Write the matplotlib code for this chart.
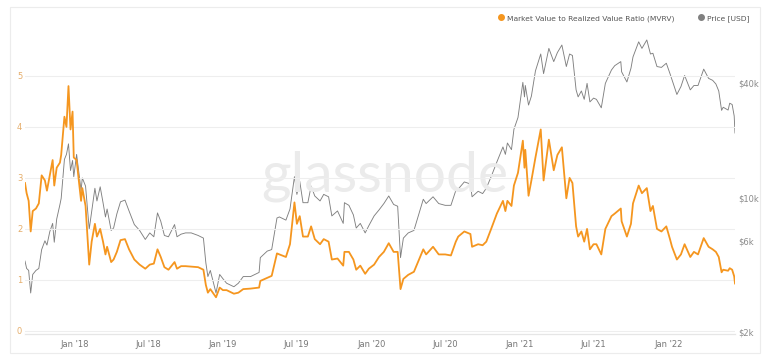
#!/usr/bin/env python3
"""Bitcoin MVRV ratio vs price chart, glassnode style."""

import matplotlib

matplotlib.use("Agg")
import matplotlib.pyplot as plt
import pandas as pd
from matplotlib.lines import Line2D
from matplotlib.patches import Rectangle
from matplotlib.ticker import FixedLocator, NullLocator

DATES = [
    "2017-09-01", "2017-09-05", "2017-09-10", "2017-09-15", "2017-09-20", "2017-09-28",
    "2017-10-05", "2017-10-12", "2017-10-20", "2017-10-25", "2017-11-01", "2017-11-08",
    "2017-11-12", "2017-11-18", "2017-11-26", "2017-11-29", "2017-12-07", "2017-12-12",
    "2017-12-17", "2017-12-22", "2017-12-27", "2017-12-30", "2018-01-06", "2018-01-10",
    "2018-01-17", "2018-01-20", "2018-01-28", "2018-02-06", "2018-02-12", "2018-02-20",
    "2018-02-25", "2018-03-05", "2018-03-12", "2018-03-18", "2018-03-22", "2018-04-01",
    "2018-04-07", "2018-04-15", "2018-04-24", "2018-05-05", "2018-05-15", "2018-05-28",
    "2018-06-10", "2018-06-24", "2018-07-05", "2018-07-15", "2018-07-24", "2018-08-01",
    "2018-08-10", "2018-08-20", "2018-09-04", "2018-09-10", "2018-09-20", "2018-10-01",
    "2018-10-15", "2018-11-01", "2018-11-14", "2018-11-20", "2018-11-25", "2018-12-01",
    "2018-12-15", "2018-12-24", "2019-01-01", "2019-01-10", "2019-01-28", "2019-02-08",
    "2019-02-20", "2019-03-10", "2019-03-31", "2019-04-03", "2019-04-20", "2019-05-01",
    "2019-05-14", "2019-05-20", "2019-06-05", "2019-06-15", "2019-06-26", "2019-07-02",
    "2019-07-09", "2019-07-17", "2019-07-29", "2019-08-06", "2019-08-15", "2019-08-28",
    "2019-09-06", "2019-09-18", "2019-09-26", "2019-10-10", "2019-10-24", "2019-10-27",
    "2019-11-07", "2019-11-18", "2019-11-25", "2019-12-05", "2019-12-17", "2019-12-26",
    "2020-01-08", "2020-01-20", "2020-02-01", "2020-02-13", "2020-02-25", "2020-03-06",
    "2020-03-13", "2020-03-20", "2020-04-01", "2020-04-15", "2020-04-30", "2020-05-08",
    "2020-05-15", "2020-06-01", "2020-06-15", "2020-07-01", "2020-07-15", "2020-07-27",
    "2020-08-02", "2020-08-17", "2020-09-01", "2020-09-05", "2020-09-20", "2020-10-01",
    "2020-10-10", "2020-10-22", "2020-11-05", "2020-11-20", "2020-11-26", "2020-12-01",
    "2020-12-11", "2020-12-17", "2020-12-27", "2021-01-08", "2021-01-12", "2021-01-14",
    "2021-01-22", "2021-01-29", "2021-02-08", "2021-02-21", "2021-02-28", "2021-03-13",
    "2021-03-25", "2021-04-03", "2021-04-14", "2021-04-25", "2021-05-03", "2021-05-10",
    "2021-05-19", "2021-05-24", "2021-06-01", "2021-06-08", "2021-06-15", "2021-06-22",
    "2021-07-01", "2021-07-08", "2021-07-20", "2021-07-30", "2021-08-14", "2021-08-22",
    "2021-09-06", "2021-09-08", "2021-09-21", "2021-10-01", "2021-10-06", "2021-10-20",
    "2021-10-28", "2021-11-09", "2021-11-18", "2021-11-24", "2021-12-04", "2021-12-15",
    "2021-12-27", "2022-01-05", "2022-01-10", "2022-01-22", "2022-02-01", "2022-02-10",
    "2022-02-24", "2022-03-05", "2022-03-15", "2022-03-29", "2022-04-10", "2022-04-20",
    "2022-04-28", "2022-05-05", "2022-05-12", "2022-05-16", "2022-05-28", "2022-06-01",
    "2022-06-07", "2022-06-12", "2022-06-14",
]

MVRV = [
    2.90, 2.70, 2.55, 1.95, 2.35, 2.40,
    2.50, 3.05, 2.95, 2.75, 3.05, 3.35,
    2.85, 3.20, 3.30, 3.45, 4.20, 4.00,
    4.80, 3.95, 4.30, 3.40, 3.35, 3.05,
    2.55, 2.80, 2.45, 1.30, 1.75, 2.10,
    1.85, 2.00, 1.75, 1.50, 1.65, 1.35,
    1.40, 1.55, 1.78, 1.80, 1.60, 1.40,
    1.30, 1.22, 1.30, 1.32, 1.60, 1.45,
    1.25, 1.20, 1.35, 1.22, 1.27, 1.27,
    1.26, 1.25, 1.20, 0.90, 0.75, 0.82,
    0.66, 0.85, 0.80, 0.80, 0.73, 0.75,
    0.82, 0.83, 0.85, 0.98, 1.04, 1.08,
    1.52, 1.50, 1.45, 1.70, 2.52, 2.10,
    2.25, 1.85, 1.85, 2.05, 1.80, 1.70,
    1.80, 1.75, 1.40, 1.42, 1.28, 1.55,
    1.55, 1.40, 1.20, 1.28, 1.12, 1.22,
    1.30, 1.45, 1.55, 1.72, 1.55, 1.55,
    0.82, 1.02, 1.10, 1.16, 1.45, 1.60,
    1.50, 1.65, 1.50, 1.50, 1.48, 1.75,
    1.85, 1.95, 1.90, 1.65, 1.70, 1.68,
    1.75, 2.00, 2.30, 2.55, 2.35, 2.55,
    2.45, 2.85, 3.10, 3.73, 3.20, 3.55,
    2.65, 2.95, 3.40, 3.95, 2.95, 3.75,
    3.15, 3.45, 3.60, 2.60, 3.00, 2.90,
    2.05, 1.85, 1.95, 1.75, 2.00, 1.60,
    1.70, 1.70, 1.50, 2.00, 2.25, 2.30,
    2.40, 2.15, 1.85, 2.10, 2.50, 2.85,
    2.70, 2.80, 2.35, 2.45, 2.00, 1.95,
    2.05, 1.80, 1.65, 1.40, 1.50, 1.70,
    1.45, 1.55, 1.50, 1.82, 1.65, 1.60,
    1.55, 1.45, 1.15, 1.20, 1.18, 1.23,
    1.20, 1.07, 0.93,
]

# price in thousand USD
PRICE_K = [
    4.7, 4.3, 4.2, 3.2, 4.0, 4.2,
    4.3, 5.4, 6.0, 5.7, 6.7, 7.4,
    5.9, 7.8, 9.3, 10.0, 16.0, 17.0,
    19.3, 14.0, 15.8, 13.0, 17.0, 14.5,
    11.0, 12.8, 11.6, 6.9, 8.5, 11.3,
    9.7, 11.5, 9.5, 8.0, 8.8, 6.8,
    7.0, 8.3, 9.6, 9.8, 8.6, 7.3,
    6.8, 6.1, 6.6, 6.3, 8.4, 7.6,
    6.4, 6.3, 7.3, 6.3, 6.5, 6.6,
    6.6, 6.4, 6.2, 4.6, 3.9, 4.2,
    3.2, 4.0, 3.8, 3.6, 3.45, 3.6,
    3.9, 3.9, 4.1, 4.9, 5.3, 5.4,
    7.9, 8.0, 7.7, 8.8, 13.0, 10.5,
    12.3, 9.5, 9.5, 11.6, 10.3, 9.7,
    10.5, 10.2, 8.1, 8.6, 7.4, 9.5,
    9.2, 8.2, 7.0, 7.4, 6.6, 7.2,
    8.1, 8.7, 9.4, 10.3, 9.3, 9.1,
    4.9, 6.2, 6.6, 6.8, 8.7, 9.9,
    9.4, 10.2, 9.4, 9.2, 9.2, 11.0,
    11.2, 12.2, 11.9, 10.2, 10.9, 10.6,
    11.3, 13.0, 15.5, 18.6, 17.0, 19.5,
    18.0, 23.0, 26.5, 40.5, 34.0, 39.0,
    30.8, 34.3, 46.5, 57.0, 45.0, 61.0,
    52.0, 58.0, 63.5, 49.0, 57.0, 56.0,
    37.0, 34.0, 36.5, 33.0, 40.0, 32.0,
    33.5, 33.0, 29.8, 40.0, 47.0, 49.5,
    52.0, 46.0, 40.7, 48.0, 55.0, 66.0,
    61.0, 67.5, 57.0, 57.5, 49.0, 48.5,
    51.0, 45.0, 41.8, 35.0, 38.5, 44.0,
    37.0, 39.0, 39.0, 47.5, 42.5, 41.5,
    39.7, 36.5, 28.9, 30.0, 29.0, 31.5,
    31.0, 27.0, 22.0,
]

MVRV_TICKS = [0, 1, 2, 3, 4, 5]
PRICE_TICKS = [2000, 6000, 10000, 40000]
PRICE_TICK_LABELS = ["$2k", "$6k", "$10k", "$40k"]
X_TICKS = ["2018-01-01", "2018-07-01", "2019-01-01", "2019-07-01", "2020-01-01",
           "2020-07-01", "2021-01-01", "2021-07-01", "2022-01-01"]
X_TICK_LABELS = ["Jan '18", "Jul '18", "Jan '19", "Jul '19", "Jan '20",
                 "Jul '20", "Jan '21", "Jul '21", "Jan '22"]

ORANGE = "#f5961f"
GREY = "#808080"

dates = pd.to_datetime(DATES)
price = [p * 1000 for p in PRICE_K]

W, H = 764, 358
fig = plt.figure(figsize=(W / 100, H / 100), dpi=100)
fig.patch.set_facecolor("white")

# card border
fig.patches.append(Rectangle((10 / W, 1 - 353 / H), 750 / W, 346 / H,
                             transform=fig.transFigure, fill=False,
                             edgecolor="#ececec", linewidth=0.8))

ax = fig.add_axes([25 / W, 1 - 334 / H, 710 / W, 303 / H])
ax2 = ax.twinx()

# watermark
fig.text(385 / W, 1 - 176 / H, "glassnode", ha="center", va="center",
         fontsize=41, color="#ebebeb", family="Lato", zorder=0)

ax.patch.set_visible(False)
ax2.patch.set_visible(False)

ax2.plot(dates, price, color=GREY, linewidth=0.65, zorder=2)
ax.plot(dates, MVRV, color=ORANGE, linewidth=1.3, zorder=3)
ax.set_zorder(ax2.get_zorder() + 1)

ax.set_xlim(dates[0], dates[-1])
ax.set_ylim(-0.06, 5.88)
ax2.set_yscale("log")
ax2.set_ylim(1952, 75200)

ax.yaxis.set_major_locator(FixedLocator(MVRV_TICKS))
ax.grid(axis="y", color="#eeeeee", linewidth=0.8)
ax.tick_params(axis="y", length=0, pad=2, labelsize=6, labelcolor="#e5ad6a")

ax2.yaxis.set_major_locator(FixedLocator(PRICE_TICKS))
ax2.yaxis.set_minor_locator(NullLocator())
ax2.set_yticklabels(PRICE_TICK_LABELS)
ax2.tick_params(axis="y", length=0, pad=2, labelsize=6, labelcolor="#8a8a8a")

ax.set_xticks(pd.to_datetime(X_TICKS), X_TICK_LABELS)
ax.tick_params(axis="x", length=0, pad=4, labelsize=6, labelcolor="#777777")

for a in (ax, ax2):
    for side in ("top", "left", "right"):
        a.spines[side].set_visible(False)
    a.spines["bottom"].set_color("#e6e6e6")
    a.spines["bottom"].set_linewidth(0.8)

handles = [
    Line2D([], [], marker="o", linestyle="", color=ORANGE, markersize=4,
           label="Market Value to Realized Value Ratio (MVRV)"),
    Line2D([], [], marker="o", linestyle="", color=GREY, markersize=4,
           label="Price [USD]"),
]
fig.legend(handles=handles, loc="upper right", bbox_to_anchor=(756 / W, 1 - 8 / H),
           ncol=2, frameon=False, fontsize=5.4, handletextpad=0.3,
           columnspacing=3.0, labelcolor="#555555", handlelength=1.0)

fig.savefig("out.png", dpi=100, facecolor="white")
plt.close(fig)
